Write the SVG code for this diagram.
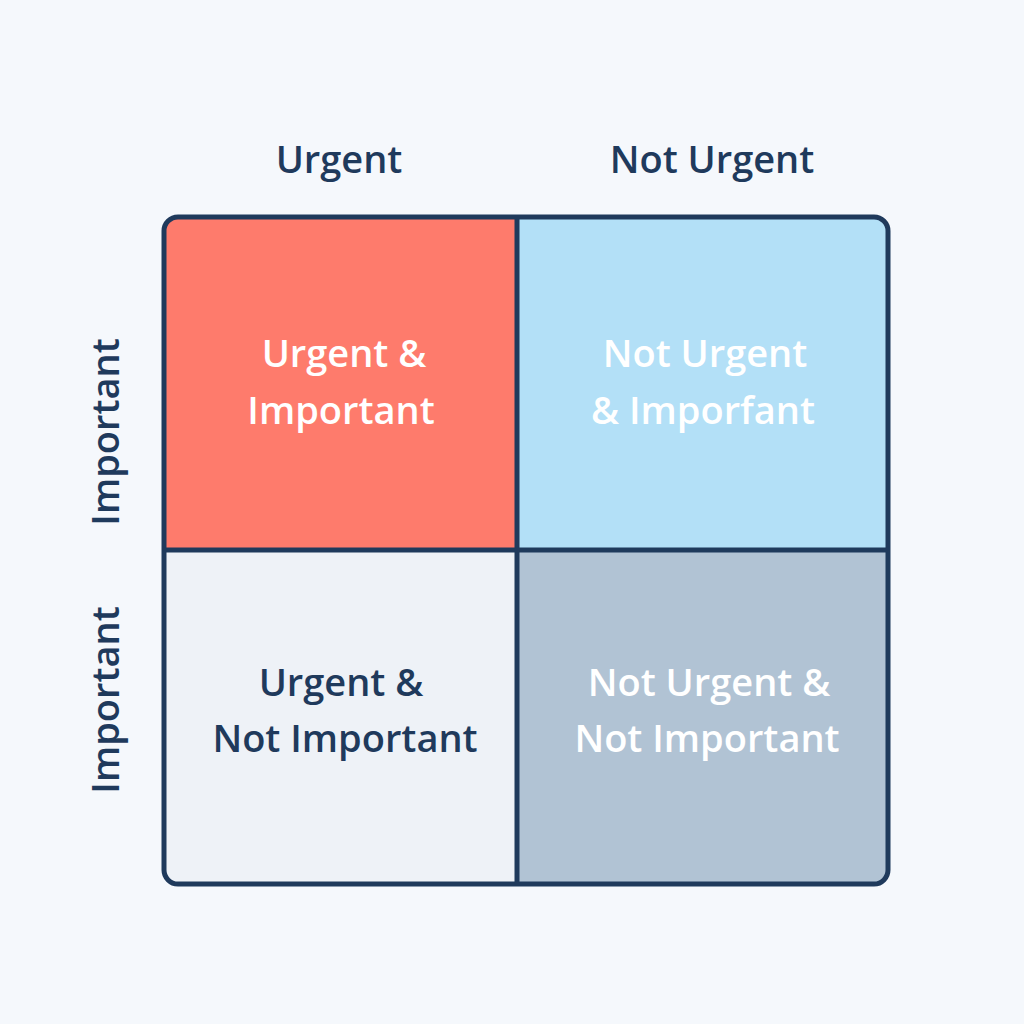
<svg xmlns="http://www.w3.org/2000/svg" width="1024" height="1024" viewBox="0 0 1024 1024">
<style>
text{font-family:"Open Sans","Noto Sans",sans-serif;font-weight:600;text-anchor:middle}
.h{font-size:38px;fill:#1f3a5c}
.q{font-size:38px}
.w{fill:#ffffff}
.d{fill:#1f3a5c}
</style>
<rect width="1024" height="1024" fill="#f5f8fc"/>
<text class="h" x="339" y="173">Urgent</text>
<text class="h" x="712" y="173">Not Urgent</text>
<text class="h" transform="translate(119,432) rotate(-90)">Important</text>
<text class="h" transform="translate(119,700) rotate(-90)">Important</text>
<g id="q1"><path d="M178,218 H517 V550 H165 V231 A13,13 0 0 1 178,218 Z" fill="#fe7b6c"/>
<text class="q w" x="344" y="367">Urgent &amp;</text><text class="q w" x="341" y="424">Important</text></g>
<g id="q2"><path d="M517,218 H874 A13,13 0 0 1 887,231 V550 H517 Z" fill="#b3e0f7"/>
<text class="q w" x="705" y="367">Not Urgent</text><text class="q w" x="703" y="424">&amp; Imporfant</text></g>
<g id="q3"><path d="M165,550 H517 V883 H178 A13,13 0 0 1 165,870 Z" fill="#eef2f7"/>
<text class="q d" x="341" y="696">Urgent &amp;</text><text class="q d" x="345" y="752">Not Important</text></g>
<g id="q4"><path d="M517,550 H887 V870 A13,13 0 0 1 874,883 H517 Z" fill="#b1c3d4"/>
<text class="q w" x="709" y="696">Not Urgent &amp;</text><text class="q w" x="707" y="752">Not Important</text></g>
<g id="grid" fill="none" stroke="#1f3a5c" stroke-width="5">
<rect x="164" y="217" width="724" height="667" rx="14"/>
<line x1="517" y1="217" x2="517" y2="884"/>
<line x1="164" y1="550" x2="888" y2="550"/>
</g>
</svg>
